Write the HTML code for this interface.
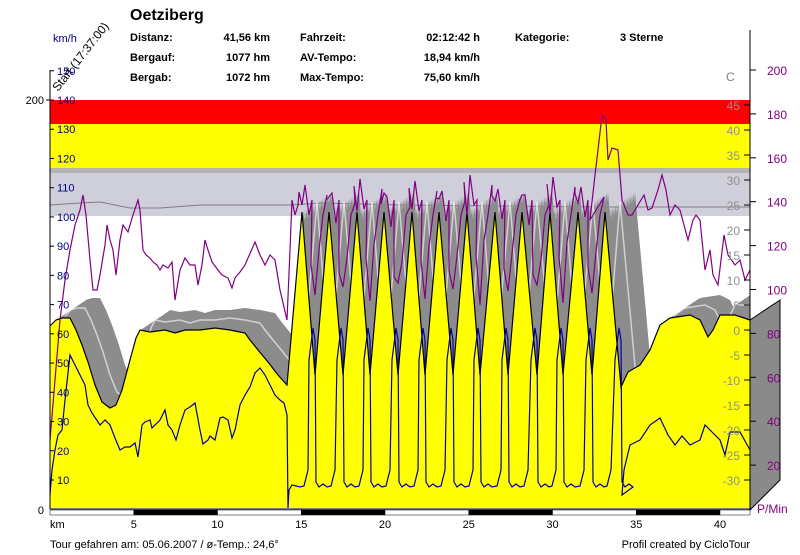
<!DOCTYPE html>
<html><head><meta charset="utf-8"><style>
body{margin:0;background:#fff;width:800px;height:550px;overflow:hidden;font-family:"Liberation Sans",Arial,sans-serif}
svg text{font-family:"Liberation Sans",Arial,sans-serif}
</style></head><body>
<svg id="s" width="800" height="550" xmlns="http://www.w3.org/2000/svg">
<defs><clipPath id="pc"><rect x="50" y="60" width="700" height="448"/></clipPath></defs>
<rect x="50" y="100" width="700" height="24" fill="#ff0000"/>
<rect x="50" y="124" width="700" height="44" fill="#ffff00"/>
<rect x="50" y="168" width="700" height="48" fill="#cfcfdc"/>
<rect x="50" y="168" width="700" height="5" fill="#b4b4b4"/>
<polyline points="50,205 80,203 100,202 130,208 160,208 200,205 290,205 320,203 400,205 600,207 750,207" fill="none" stroke="#808080" stroke-width="1"/>
<g id="shadow" clip-path="url(#pc)"></g>
<g id="prof"></g>
<g id="lines" clip-path="url(#pc)"></g>
<polygon points="750,320 780,300 780,480 750,510" fill="#8a8a8a" stroke="#000" stroke-width="1"/>
<line x1="50" y1="70" x2="50" y2="509" stroke="#000"/>
<line x1="750" y1="30" x2="750" y2="509" stroke="#000"/>
<line x1="50" y1="509" x2="750" y2="509" stroke="#000"/>
<g id="bar"></g>
<g id="lab" font-size="11"></g>
<text x="130" y="20" font-size="16" font-weight="bold">Oetziberg</text>
<g font-size="11" font-weight="bold">
<text x="130" y="41">Distanz:</text><text x="270" y="41" text-anchor="end">41,56 km</text>
<text x="130" y="61">Bergauf:</text><text x="270" y="61" text-anchor="end">1077 hm</text>
<text x="130" y="81">Bergab:</text><text x="270" y="81" text-anchor="end">1072 hm</text>
<text x="300" y="41">Fahrzeit:</text><text x="480" y="41" text-anchor="end">02:12:42 h</text>
<text x="300" y="61">AV-Tempo:</text><text x="480" y="61" text-anchor="end">18,94 km/h</text>
<text x="300" y="81">Max-Tempo:</text><text x="480" y="81" text-anchor="end">75,60 km/h</text>
<text x="515" y="41">Kategorie:</text><text x="620" y="41">3 Sterne</text>
</g>
<text x="53" y="42" font-size="11" fill="#000080">km/h</text>
<text x="58" y="92" font-size="12" transform="rotate(-52 58 92)">Start (17:37:00)</text>
<text x="726" y="81" font-size="12" fill="#808080">C</text>
<text x="50" y="528" font-size="11">km</text>
<text x="50" y="548" font-size="11">Tour gefahren am: 05.06.2007  /  ø-Temp.: 24,6°</text>
<text x="750" y="548" font-size="11" text-anchor="end">Profil created by CicloTour</text>
<text x="757" y="513" font-size="12" fill="#800080">P/Min</text>
</svg>
<script>
var NS="http://www.w3.org/2000/svg";
function el(p,t,a){var e=document.createElementNS(NS,t);for(var k in a)e.setAttribute(k,a[k]);document.getElementById(p).appendChild(e);return e;}
var left=[[50,326],[56,320],[62,318],[70,318],[76,330],[82,345],[88,362],[95,385],[102,402],[110,408],[116,405],[122,390],[130,360],[136,338],[140,330],[150,332],[165,330],[175,333],[185,330],[200,330],[215,328],[230,330],[245,333],[250,340],[258,350],[268,362],[278,375],[287,385]];
var px=[302,329,357,384,412,439,467,495,522,550,578,605];
var vx=[315,343,370,398,425,453,480,508,537,563,592,621];
var prof=left.slice();
for(var i=0;i<px.length;i++){prof.push([px[i],212]);prof.push([vx[i],i==11?387:375]);}
var end=[[628,372],[640,365],[650,350],[660,325],[670,318],[690,315],[700,320],[708,337],[713,330],[720,315],[735,315],[750,320]];
prof=prof.concat(end);
function pts(a,dx,dy){return a.map(function(p){return (p[0]+dx)+","+(p[1]+dy)}).join(" ");}
for(var t=0;t<=1.001;t+=0.05){
 var pp=prof.concat([[750,508],[50,508]]);
 el("shadow","polygon",{points:pts(pp,30*t,-20*t),fill:"#8c8c8c"});
}
el("shadow","polyline",{points:pts(prof,15,-10),fill:"none",stroke:"#fff","stroke-width":1.5,opacity:0.6});
el("prof","polygon",{points:pts(prof.concat([[750,508],[50,508]]),0,0),fill:"#ffff00"});
el("prof","polyline",{points:pts(prof,0,0),fill:"none",stroke:"#000","stroke-width":1.2});
var sp=[[50,495],[52,470],[55,450],[58,435],[62,430],[65,400],[70,355],[75,365],[80,375],[85,385],[88,405],[92,413],[100,425],[105,420],[110,425],[115,438],[120,450],[125,447],[130,447],[135,443],[138,457],[142,425],[145,422],[150,420],[152,428],[155,425],[160,420],[165,410],[168,425],[172,430],[176,440],[180,425],[185,410],[190,407],[195,403],[200,430],[203,444],[208,440],[210,436],[215,440],[220,418],[223,417],[228,420],[232,438],[235,430],[240,405],[245,395],[250,387],[255,373],[260,368],[265,375],[270,385],[275,395],[280,400],[284,403],[287,415],[288,508],[289,490],[292,485],[300,487]];
for(i=0;i<px.length;i++){
 var nx=vx[i];
 sp.push([px[i]+2,486],[px[i]+6,470],[nx-6,360],[nx-2,328],[nx,340],[nx+1,482],[nx+4,487],[nx+8,484],[nx+12,487]);
}
sp=sp.concat([[622,495],[624,470],[630,445],[640,440],[650,425],[660,418],[668,435],[675,445],[682,436],[690,445],[700,440],[705,425],[712,432],[720,440],[725,455],[730,432],[740,432],[750,450]]);
el("lines","polyline",{points:pts(sp,0,0),fill:"none",stroke:"#0000a0","stroke-width":1.2});
var pu=[[50,440],[55,380],[60,320],[65,280],[70,250],[75,225],[80,210],[83,195],[86,215],[90,260],[93,290],[97,290],[100,275],[105,245],[107,225],[110,240],[113,250],[116,275],[120,240],[123,225],[128,232],[133,215],[138,200],[140,210],[143,250],[146,255],[150,258],[153,262],[157,265],[160,270],[163,265],[168,268],[172,262],[175,300],[180,270],[185,258],[190,265],[195,265],[198,285],[202,265],[205,240],[208,250],[212,262],[218,270],[222,275],[228,278],[232,288],[235,278],[240,272],[245,265],[255,242],[260,255],[265,265],[270,255],[275,260],[280,290],[287,320],[290,250],[292,200],[295,215],[298,205]];
var jit=[0,8,-6,12,-4,6,-10,4,10,-8,2];
for(i=0;i<px.length-1;i++){
 var j=jit[i];
 pu.push([px[i]-3,192+j],[px[i],205-j],[px[i]+3,185+j],[px[i]+7,215+j],[px[i]+10,200],[vx[i]-4,265+j],[vx[i],295-j],[vx[i]+4,250+j],[vx[i]+8,215],[vx[i]+12,195+j]);
}
pu=pu.concat([[590,220],[595,175],[598,150],[602,115],[606,120],[608,160],[612,148],[618,150],[622,200],[628,215],[632,215],[638,205],[644,195],[648,210],[652,208],[658,190],[662,175],[666,190],[670,215],[675,205],[680,210],[688,240],[693,220],[696,215],[700,220],[705,270],[710,250],[713,275],[718,285],[724,235],[728,255],[735,265],[740,260],[745,280],[750,270]]);
el("lines","polyline",{points:pts(pu,0,0),fill:"none",stroke:"#800080","stroke-width":1.2});
for(var k=0;k<9;k++){var x0=50+k*83.75,x1=Math.min(750,x0+83.75);
 el("bar","rect",{x:x0,y:510,width:x1-x0,height:5,fill:k%2?"#000":"#fff",stroke:"#000","stroke-width":0.5});}
for(k=5;k<=40;k+=5){var t1=el("lab","text",{x:50+k*16.75,y:528,"text-anchor":"middle"});t1.textContent=k;}
var a=el("lab","text",{x:44,y:104,"text-anchor":"end"});a.textContent="200";
a=el("lab","text",{x:44,y:514,"text-anchor":"end"});a.textContent="0";
el("lab","line",{x1:46,y1:100,x2:54,y2:100,stroke:"#000"});
for(var v=10;v<=150;v+=10){var y=100+(140-v)*2.923;
 el("lab","line",{x1:50,y1:y,x2:54,y2:y,stroke:"#000"});
 a=el("lab","text",{x:57,y:y+4,fill:"#000080","font-size":"11"});a.textContent=v;}
for(var T=-30;T<=45;T+=5){var y2=330-5*T;
 el("lab","line",{x1:744,y1:y2,x2:750,y2:y2,stroke:"#000"});
 a=el("lab","text",{x:740,y:y2+5,"text-anchor":"end",fill:"#909090","font-size":"12"});a.textContent=T;}
for(var P=20;P<=200;P+=20){var y3=70+(200-P)*2.195;
 el("lab","line",{x1:750,y1:y3,x2:756,y2:y3,stroke:"#000"});
 a=el("lab","text",{x:767,y:y3+5,fill:"#800080","font-size":"12"});a.textContent=P;}
</script>
</body></html>
